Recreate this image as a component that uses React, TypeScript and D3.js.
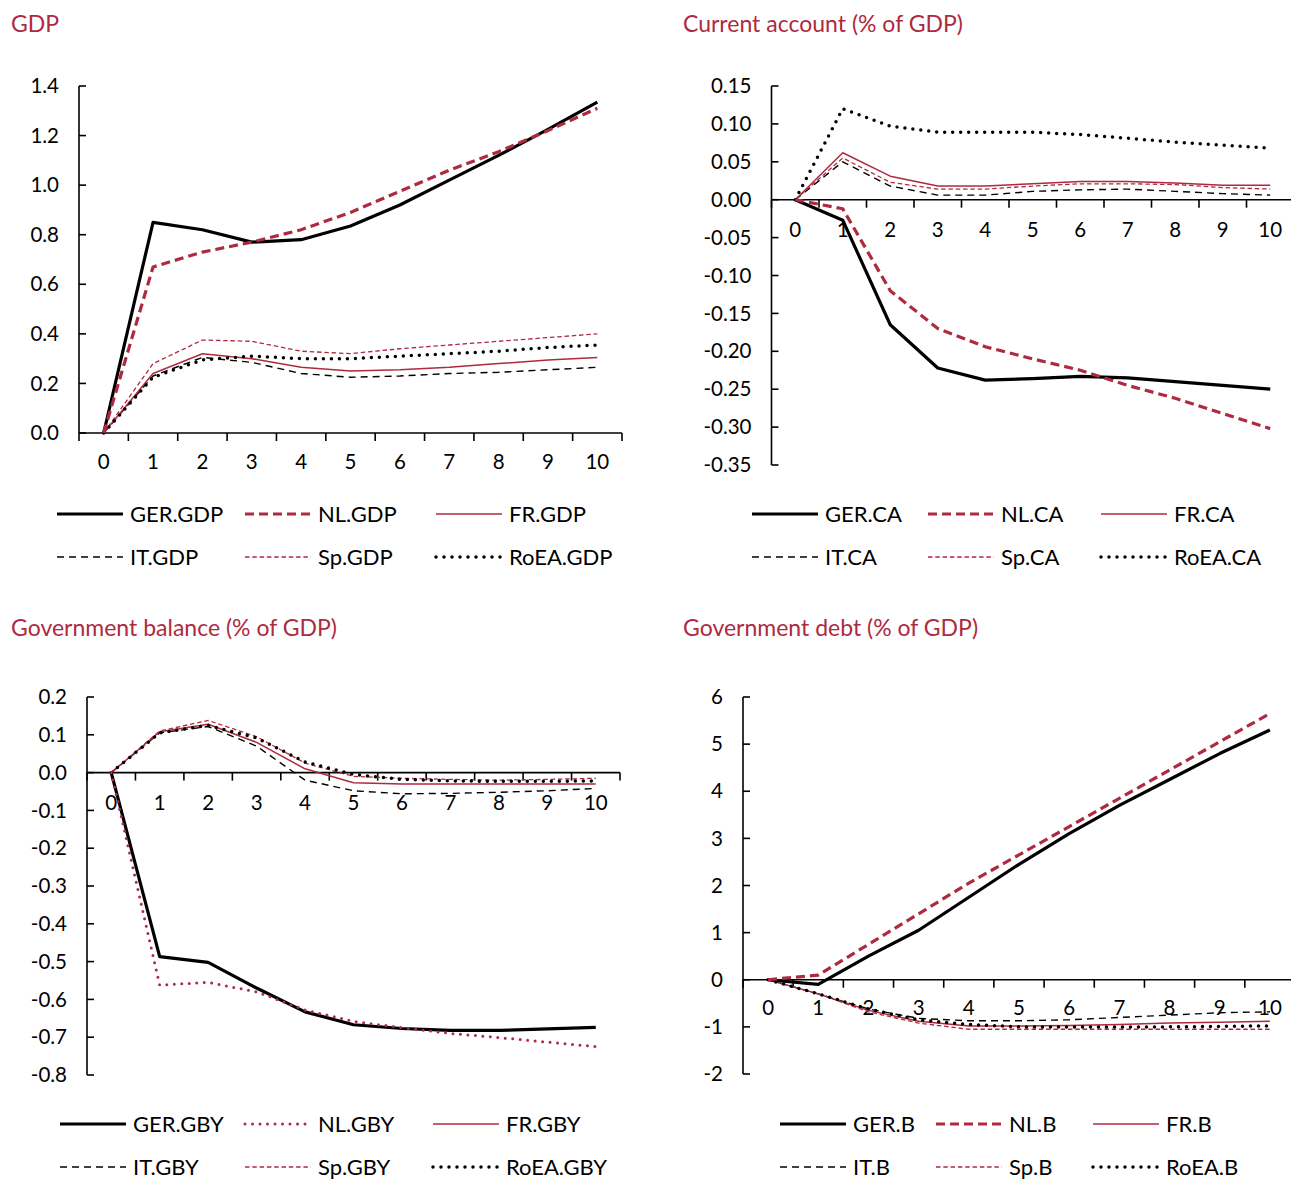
import React from "react";
import * as d3 from "d3";

const periods = [0, 1, 2, 3, 4, 5, 6, 7, 8, 9, 10];
const countries = ["GER", "NL", "FR", "IT", "Sp", "RoEA"];

const gdpGER = [0, 0.85, 0.82, 0.77, 0.78, 0.835, 0.92, 1.02, 1.12, 1.225, 1.335];
const gdpNL = [0, 0.67, 0.73, 0.77, 0.82, 0.89, 0.975, 1.06, 1.135, 1.22, 1.31];
const gdpFR = [0, 0.24, 0.32, 0.3, 0.265, 0.25, 0.255, 0.265, 0.28, 0.295, 0.305];
const gdpIT = [0, 0.23, 0.305, 0.285, 0.24, 0.225, 0.23, 0.24, 0.245, 0.255, 0.265];
const gdpSp = [0, 0.28, 0.375, 0.37, 0.33, 0.32, 0.34, 0.355, 0.37, 0.385, 0.4];
const gdpRoEA = [0, 0.225, 0.295, 0.31, 0.3, 0.3, 0.31, 0.32, 0.33, 0.345, 0.355];

const caGER = [0, -0.027, -0.165, -0.222, -0.238, -0.236, -0.233, -0.235, -0.24, -0.245, -0.25];
const caNL = [0, -0.012, -0.12, -0.17, -0.194, -0.21, -0.225, -0.245, -0.262, -0.282, -0.302];
const caFR = [0, 0.062, 0.031, 0.018, 0.018, 0.021, 0.024, 0.024, 0.022, 0.019, 0.019];
const caIT = [0, 0.05, 0.018, 0.006, 0.006, 0.011, 0.013, 0.014, 0.011, 0.008, 0.006];
const caSp = [0, 0.055, 0.023, 0.014, 0.014, 0.018, 0.021, 0.021, 0.02, 0.016, 0.014];
const caRoEA = [0, 0.12, 0.097, 0.089, 0.089, 0.089, 0.086, 0.081, 0.076, 0.072, 0.068];

const gbyGER = [0, -0.487, -0.502, -0.57, -0.633, -0.667, -0.677, -0.682, -0.682, -0.678, -0.674];
const gbyNL = [0, -0.562, -0.555, -0.58, -0.628, -0.658, -0.675, -0.69, -0.701, -0.713, -0.725];
const gbyFR = [0, 0.108, 0.128, 0.08, 0.01, -0.027, -0.03, -0.03, -0.03, -0.03, -0.03];
const gbyIT = [0, 0.105, 0.122, 0.07, -0.02, -0.048, -0.056, -0.055, -0.052, -0.048, -0.042];
const gbySp = [0, 0.11, 0.138, 0.095, 0.025, -0.01, -0.015, -0.018, -0.02, -0.018, -0.015];
const gbyRoEA = [0, 0.105, 0.125, 0.092, 0.028, -0.005, -0.018, -0.022, -0.023, -0.023, -0.022];

const bGER = [0, -0.1, 0.5, 1.05, 1.75, 2.45, 3.1, 3.7, 4.25, 4.8, 5.3];
const bNL = [0, 0.1, 0.75, 1.4, 2.05, 2.65, 3.25, 3.85, 4.45, 5.05, 5.65];
const bFR = [0, -0.3, -0.65, -0.88, -0.98, -0.98, -0.97, -0.95, -0.92, -0.9, -0.88];
const bIT = [0, -0.3, -0.62, -0.82, -0.87, -0.87, -0.85, -0.8, -0.75, -0.7, -0.68];
const bSp = [0, -0.3, -0.68, -0.92, -1.05, -1.05, -1.05, -1.05, -1.05, -1.05, -1.05];
const bRoEA = [0, -0.3, -0.62, -0.85, -0.95, -1.0, -1.0, -1.0, -1.0, -0.99, -0.98];

const CRIM = "#AE2A40";
const FONT = "Lato, 'Noto Sans', sans-serif";

type Style = { color: string; width: number; dash?: string; cap?: string };

const baseStyles: Record<string, Style> = {
  GER: { color: "#000", width: 3.2 },
  NL: { color: CRIM, width: 3.2, dash: "9,5" },
  FR: { color: CRIM, width: 1.5 },
  IT: { color: "#000", width: 1.4, dash: "7,5" },
  Sp: { color: CRIM, width: 1.3, dash: "4.5,2.8" },
  RoEA: { color: "#000", width: 3.5, dash: "0,8", cap: "round" },
};
const nlDotted: Style = { color: CRIM, width: 3, dash: "0,7.5", cap: "round" };

type PanelCfg = {
  title: string;
  suffix: string;
  titleX: number;
  titleY: number;
  xRange: [number, number];
  yDomain: [number, number];
  yRange: [number, number];
  yStep: number;
  fmt: (v: number) => string;
  xLabelY: number;
  legendX: number[];
  legendY: number[];
  series: number[][];
  nlDots?: boolean;
};

const f1 = (v: number) => (Math.abs(v) < 1e-9 ? "0.0" : d3.format(".1f")(v).replace("−", "-"));
const f2 = (v: number) => (Math.abs(v) < 1e-9 ? "0.00" : d3.format(".2f")(v).replace("−", "-"));
const f0 = (v: number) => (Math.abs(v) < 1e-9 ? "0" : d3.format("d")(v).replace("−", "-"));

const panels: PanelCfg[] = [
  {
    title: "GDP", suffix: "GDP", titleX: 11, titleY: 32,
    xRange: [79, 622], yDomain: [0, 1.4], yRange: [433, 86], yStep: 0.2, fmt: f1,
    xLabelY: 462, legendX: [57, 245, 436], legendY: [514, 557],
    series: [gdpGER, gdpNL, gdpFR, gdpIT, gdpSp, gdpRoEA],
  },
  {
    title: "Current account (% of GDP)", suffix: "CA", titleX: 683, titleY: 32,
    xRange: [771.5, 1294], yDomain: [-0.35, 0.15], yRange: [465, 86], yStep: 0.05, fmt: f2,
    xLabelY: 230, legendX: [752, 928, 1101], legendY: [514, 557],
    series: [caGER, caNL, caFR, caIT, caSp, caRoEA],
  },
  {
    title: "Government balance (% of GDP)", suffix: "GBY", titleX: 11, titleY: 636,
    xRange: [87, 620], yDomain: [-0.8, 0.2], yRange: [1075, 697], yStep: 0.1, fmt: f1,
    xLabelY: 803, legendX: [60, 245, 433], legendY: [1124, 1167],
    series: [gbyGER, gbyNL, gbyFR, gbyIT, gbySp, gbyRoEA], nlDots: true,
  },
  {
    title: "Government debt (% of GDP)", suffix: "B", titleX: 683, titleY: 636,
    xRange: [743, 1295], yDomain: [-2, 6], yRange: [1074, 697], yStep: 1, fmt: f0,
    xLabelY: 1008, legendX: [780, 936, 1093], legendY: [1124, 1167],
    series: [bGER, bNL, bFR, bIT, bSp, bRoEA],
  },
];

const drawOrder = [3, 4, 2, 5, 0, 1];

function Panel({ cfg }: { cfg: PanelCfg }) {
  const x = d3.scaleLinear().domain([-0.5, periods.length - 0.5]).range(cfg.xRange);
  const y = d3.scaleLinear().domain(cfg.yDomain).range(cfg.yRange);
  const n = Math.round((cfg.yDomain[1] - cfg.yDomain[0]) / cfg.yStep);
  const yTicks = d3.range(n + 1).map((i) => cfg.yDomain[0] + i * cfg.yStep);
  const y0 = y(0);
  const line = d3
    .line<number>()
    .x((_, i) => x(periods[i]))
    .y((v) => y(v));
  const styleFor = (c: string) => (c === "NL" && cfg.nlDots ? nlDotted : baseStyles[c]);
  const bounds = d3.range(periods.length + 1).map((i) => i - 0.5);

  return (
    <g>
      <text x={cfg.titleX} y={cfg.titleY} fill={CRIM} fontSize={23} fontFamily={FONT}>
        {cfg.title}
      </text>
      <line x1={cfg.xRange[0]} x2={cfg.xRange[0]} y1={cfg.yRange[0]} y2={cfg.yRange[1]} stroke="#000" strokeWidth={1.6} />
      {yTicks.map((t, i) => (
        <g key={i}>
          <line x1={cfg.xRange[0]} x2={cfg.xRange[0] + 7} y1={y(t)} y2={y(t)} stroke="#000" strokeWidth={1.6} />
          <text x={cfg.xRange[0] - 20} y={y(t)} dy="0.35em" textAnchor="end" fontSize={20.5} fontFamily={FONT} fill="#000">
            {cfg.fmt(t)}
          </text>
        </g>
      ))}
      <line x1={cfg.xRange[0]} x2={Math.min(cfg.xRange[1], 1291)} y1={y0} y2={y0} stroke="#000" strokeWidth={1.6} />
      {bounds.map((b, i) => (
        <line key={i} x1={x(b)} x2={x(b)} y1={y0} y2={y0 + 8} stroke="#000" strokeWidth={1.6} />
      ))}
      {periods.map((p) => (
        <text key={p} x={x(p)} y={cfg.xLabelY} dy="0.35em" textAnchor="middle" fontSize={20.5} fontFamily={FONT} fill="#000">
          {p}
        </text>
      ))}
      {drawOrder.map((si) => {
        const s = styleFor(countries[si]);
        return (
          <path
            key={si}
            d={line(cfg.series[si]) || ""}
            fill="none"
            stroke={s.color}
            strokeWidth={s.width}
            strokeDasharray={s.dash}
            strokeLinecap={(s.cap as any) || "butt"}
            strokeLinejoin="round"
          />
        );
      })}
      {countries.map((c, i) => {
        const s = styleFor(c);
        const lx = cfg.legendX[i % 3];
        const ly = cfg.legendY[Math.floor(i / 3)];
        return (
          <g key={c}>
            <line
              x1={lx}
              x2={lx + 66}
              y1={ly}
              y2={ly}
              stroke={s.color}
              strokeWidth={s.width}
              strokeDasharray={s.dash}
              strokeLinecap={(s.cap as any) || "butt"}
            />
            <text x={lx + 73} y={ly} dy="0.35em" fontSize={22} fontFamily={FONT} fill="#000">
              {c}.{cfg.suffix}
            </text>
          </g>
        );
      })}
    </g>
  );
}

export default function App() {
  return (
    <svg
      width={1291}
      height={1179}
      style={{ position: "absolute", left: 0, top: 0, background: "#fff" }}
    >
      <rect x={0} y={0} width={1291} height={1179} fill="#fff" />
      {panels.map((p, i) => (
        <Panel key={i} cfg={p} />
      ))}
    </svg>
  );
}
